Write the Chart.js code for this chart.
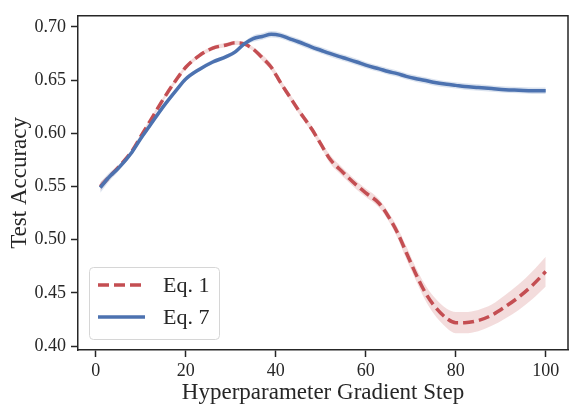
<!DOCTYPE html>
<html>
<head>
<meta charset="utf-8">
<script src="https://cdn.jsdelivr.net/npm/chart.js@4.4.1/dist/chart.umd.min.js"></script>
<style>
  html, body { margin: 0; padding: 0; background: #fff; }
  #wrap { width: 569px; height: 408px; }
</style>
</head>
<body>
<div id="wrap"><canvas id="myChart" width="569" height="408"></canvas></div>
<script>
// values
const steps = [1, 3, 5, 8, 10, 12, 15, 18, 20, 23, 26, 29, 31, 33, 35, 37, 39, 41, 43, 45,
  48, 50, 52, 55, 58, 60, 63, 65, 67, 69, 71, 73, 75, 78, 80, 82, 85, 88, 91, 94, 97, 100];
const eq1Mean = [0.550, 0.559, 0.568, 0.583, 0.597, 0.611, 0.632, 0.651, 0.662, 0.673, 0.680, 0.683, 0.685, 0.684, 0.679, 0.671, 0.662, 0.648, 0.635, 0.622,
  0.604, 0.590, 0.576, 0.563, 0.551, 0.544, 0.534, 0.522, 0.507, 0.488, 0.469, 0.452, 0.439, 0.426, 0.422, 0.422, 0.424, 0.429, 0.437, 0.446, 0.457, 0.470];
const eq1Spread = [0.004, 0.003, 0.002, 0.002, 0.002, 0.002, 0.002, 0.002, 0.002, 0.002, 0.002, 0.002, 0.002, 0.002, 0.002, 0.003, 0.003, 0.003, 0.003, 0.003,
  0.003, 0.003, 0.004, 0.004, 0.004, 0.004, 0.004, 0.004, 0.005, 0.006, 0.006, 0.007, 0.008, 0.009, 0.010, 0.010, 0.010, 0.010, 0.011, 0.012, 0.013, 0.014];
const eq7Mean = [0.549, 0.559, 0.567, 0.582, 0.595, 0.607, 0.625, 0.641, 0.651, 0.660, 0.667, 0.672, 0.6765, 0.684, 0.689, 0.691, 0.693, 0.692, 0.689, 0.686,
  0.681, 0.678, 0.675, 0.671, 0.667, 0.664, 0.6605, 0.658, 0.656, 0.6535, 0.6515, 0.6498, 0.648, 0.646, 0.645, 0.644, 0.643, 0.642, 0.641, 0.6405, 0.640, 0.640];
const eq7Spread = [0.005, 0.004, 0.003, 0.002, 0.002, 0.002, 0.002, 0.002, 0.002, 0.002, 0.002, 0.002, 0.002, 0.002, 0.003, 0.003, 0.003, 0.003, 0.003, 0.003,
  0.003, 0.003, 0.003, 0.003, 0.003, 0.003, 0.003, 0.003, 0.003, 0.003, 0.003, 0.003, 0.003, 0.003, 0.003, 0.003, 0.003, 0.003, 0.003, 0.003, 0.003, 0.003];
const seriesNames = ['Eq. 1', 'Eq. 7'];
const xTicks = [0, 20, 40, 60, 80, 100];
const yTicks = [0.40, 0.45, 0.50, 0.55, 0.60, 0.65, 0.70];

const red = '#c44e52';
const blue = '#4c72b0';
const ink = '#262626';

Chart.defaults.font.family = "'Liberation Serif', 'Times New Roman', serif";
Chart.defaults.color = ink;

function pts(vals) {
  return steps.map((x, i) => ({x: x, y: vals[i]}));
}
function shift(vals, spread, sign) {
  return vals.map((v, i) => v + sign * spread[i]);
}

// top / right spines and the legend box
const framePlugin = {
  id: 'frame',
  afterDatasetsDraw(chart) {
    const ctx = chart.ctx;
    const a = chart.chartArea;
    ctx.save();
    ctx.strokeStyle = ink;
    ctx.lineWidth = 1.5;
    ctx.beginPath();
    ctx.moveTo(a.left, a.top);
    ctx.lineTo(a.right, a.top);
    ctx.lineTo(a.right, a.bottom);
    ctx.stroke();

    // legend
    const bx = 89, by = 267, bw = 130, bh = 72, r = 4;
    ctx.fillStyle = 'rgba(255,255,255,0.85)';
    ctx.strokeStyle = '#d6d6d6';
    ctx.lineWidth = 1;
    ctx.beginPath();
    ctx.roundRect(bx + 0.5, by + 0.5, bw, bh, r);
    ctx.fill();
    ctx.stroke();

    const items = chart.data.datasets.filter(d => d.label && seriesNames.includes(d.label));
    items.forEach((d, i) => {
      const y = 285 + i * 32;
      ctx.strokeStyle = d.borderColor;
      ctx.lineWidth = d.borderWidth;
      ctx.setLineDash(d.borderDash || []);
      ctx.beginPath();
      ctx.moveTo(98, y);
      ctx.lineTo(145, y);
      ctx.stroke();
      ctx.setLineDash([]);
      ctx.fillStyle = ink;
      ctx.font = "22px 'Liberation Serif', serif";
      ctx.textBaseline = 'middle';
      ctx.fillText(d.label, 163, y + 1);
    });
    ctx.restore();
  }
};

const ctx = document.getElementById('myChart').getContext('2d');
const myChart = new Chart(ctx, {
  type: 'line',
  data: {
    datasets: [
      { data: pts(shift(eq1Mean, eq1Spread, 1)), borderWidth: 0, pointRadius: 0, fill: false, order: 5,
        cubicInterpolationMode: 'monotone' },
      { data: pts(shift(eq1Mean, eq1Spread, -1)), borderWidth: 0, pointRadius: 0, fill: '-1', order: 5,
        backgroundColor: 'rgba(196,78,82,0.2)', cubicInterpolationMode: 'monotone' },
      { data: pts(shift(eq7Mean, eq7Spread, 1)), borderWidth: 0, pointRadius: 0, fill: false, order: 4,
        cubicInterpolationMode: 'monotone' },
      { data: pts(shift(eq7Mean, eq7Spread, -1)), borderWidth: 0, pointRadius: 0, fill: '-1', order: 4,
        backgroundColor: 'rgba(76,114,176,0.2)', cubicInterpolationMode: 'monotone' },
      { label: seriesNames[0], data: pts(eq1Mean), borderColor: red, borderWidth: 3.5, borderDash: [11, 5],
        pointRadius: 0, fill: false, order: 2, cubicInterpolationMode: 'monotone' },
      { label: seriesNames[1], data: pts(eq7Mean), borderColor: blue, borderWidth: 3.5,
        pointRadius: 0, fill: false, order: 1, cubicInterpolationMode: 'monotone' }
    ]
  },
  options: {
    responsive: false,
    animation: false,
    devicePixelRatio: 1,
    layout: { padding: { top: 7, right: 1, left: 0, bottom: 0 } },
    plugins: {
      legend: { display: false },
      tooltip: { enabled: false }
    },
    scales: {
      x: {
        type: 'linear',
        min: -3.95,
        max: 104.95,
        afterBuildTicks: s => { s.ticks = xTicks.map(v => ({value: v})); },
        afterFit: s => { s.height = 58; },
        grid: { drawOnChartArea: false, drawTicks: true, tickLength: 7, tickWidth: 1.5, tickColor: ink },
        border: { display: true, color: ink, width: 1.5 },
        ticks: { font: { size: 18 }, padding: 3, maxRotation: 0, callback: v => String(v) },
        title: { display: true, text: 'Hyperparameter Gradient Step', font: { size: 23 }, padding: { top: 0, bottom: 1 } }
      },
      y: {
        min: 0.3963,
        max: 0.7104,
        afterBuildTicks: s => { s.ticks = yTicks.map(v => ({value: v})); },
        afterFit: s => { s.width = 78; },
        grid: { drawOnChartArea: false, drawTicks: true, tickLength: 7, tickWidth: 1.5, tickColor: ink },
        border: { display: true, color: ink, width: 1.5 },
        ticks: { font: { size: 18 }, padding: 5, callback: v => Number(v).toFixed(2) },
        title: { display: true, text: 'Test Accuracy', font: { size: 23 }, padding: { top: 6, bottom: 0 } }
      }
    }
  },
  plugins: [framePlugin]
});
</script>
</body>
</html>
